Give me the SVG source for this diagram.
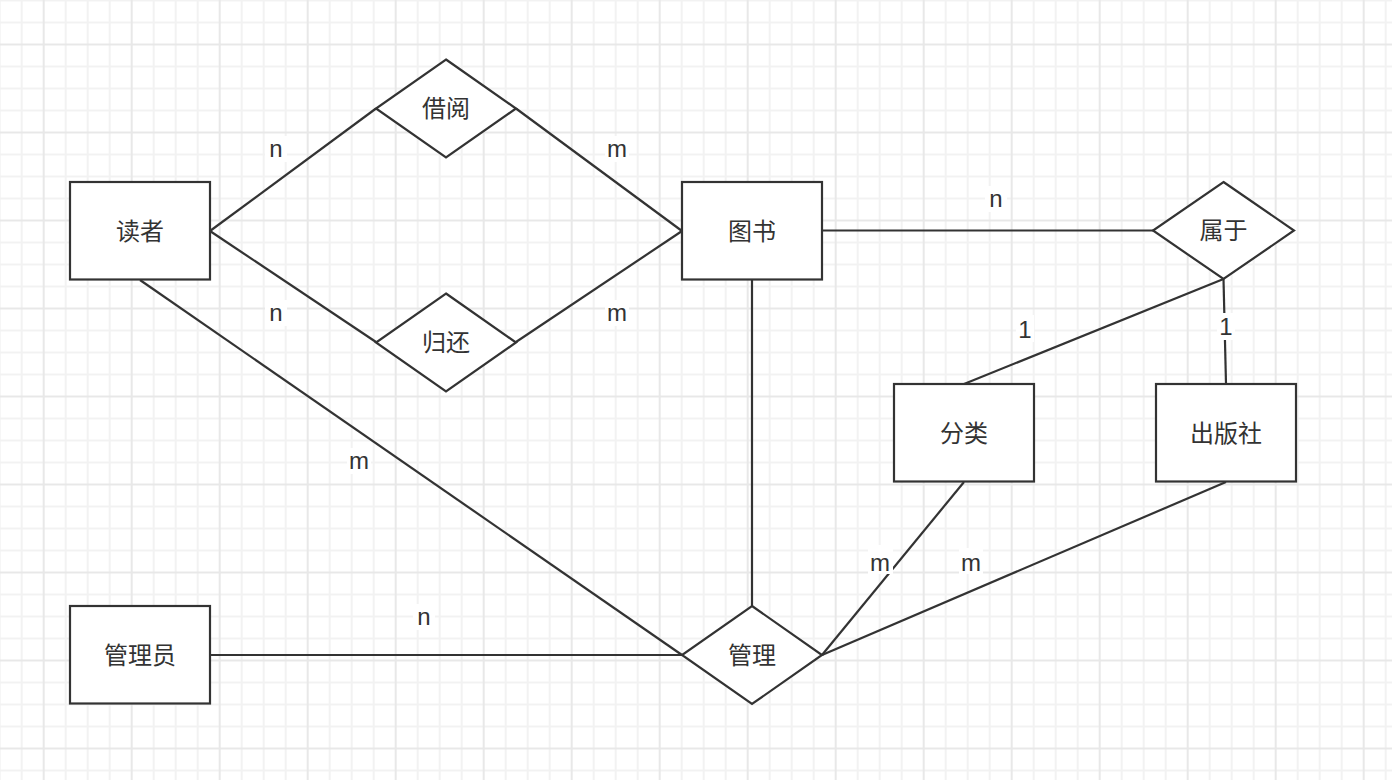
<svg xmlns="http://www.w3.org/2000/svg" width="1392" height="780" viewBox="0 0 1392 780">
<style>
.node{fill:#ffffff;stroke:#333333;stroke-width:2.2}
.edge{fill:none;stroke:#333333;stroke-width:2.2}
.t{font-family:"Liberation Sans","Noto Sans CJK SC",sans-serif;font-size:24px;fill:#333333;text-anchor:middle}
.c{dominant-baseline:central}
.bg{fill:#ffffff}
</style>
<defs>
<pattern id="grid" patternUnits="userSpaceOnUse" x="42.7" y="43.5" width="88" height="88">
<path d="M23 0V88M45 0V88M67 0V88M0 23H88M0 45H88M0 67H88" stroke="#f2f2f2" stroke-width="2" fill="none"/>
<path d="M1 0V88M0 1H88" stroke="#e8e8e8" stroke-width="2" fill="none"/>
</pattern>
</defs>
<rect width="1392" height="780" fill="#ffffff"/>
<rect width="1392" height="780" fill="url(#grid)"/>
<g id="connectors">
<path class="edge" d="M210 231L376 108.5"/>
<path class="edge" d="M516 108.5L682 231"/>
<path class="edge" d="M210 231L376 342"/>
<path class="edge" d="M516 342L682 231"/>
<path class="edge" d="M822 230.5L1153 230.5"/>
<path class="edge" d="M1223.5 279L964 384"/>
<path class="edge" d="M1223.5 279L1226 384"/>
<path class="edge" d="M140 280L682 655"/>
<path class="edge" d="M752 280L752 606"/>
<path class="edge" d="M964 482L822 655"/>
<path class="edge" d="M1226 482L822 655"/>
<path class="edge" d="M210 655L682 655"/>
</g>
<g id="edge-labels">
<rect class="bg" x="265" y="136" width="22" height="26"/><text class="t" x="276" y="157">n</text>
<rect class="bg" x="605" y="136" width="24" height="26"/><text class="t" x="617" y="157">m</text>
<rect class="bg" x="265" y="300" width="22" height="26"/><text class="t" x="276" y="321">n</text>
<rect class="bg" x="605" y="300" width="24" height="26"/><text class="t" x="617" y="321">m</text>
<rect class="bg" x="985" y="186" width="22" height="26"/><text class="t" x="996" y="207">n</text>
<rect class="bg" x="1016" y="315" width="18" height="27"/><text class="t" x="1025" y="338">1</text>
<rect class="bg" x="1217" y="313" width="18" height="27"/><text class="t" x="1226" y="335">1</text>
<rect class="bg" x="347" y="448" width="24" height="26"/><text class="t" x="359" y="469">m</text>
<rect class="bg" x="413" y="604" width="22" height="26"/><text class="t" x="424" y="625">n</text>
<rect class="bg" x="868" y="545" width="25" height="29"/><text class="t" x="880" y="571">m</text>
<rect class="bg" x="959" y="548" width="24" height="26"/><text class="t" x="971" y="571">m</text>
</g>
<g id="node-reader"><rect class="node" x="70" y="182" width="140" height="97.5"/><text class="t c" x="140" y="231">读者</text></g>
<g id="node-book"><rect class="node" x="682" y="182" width="140" height="97.5"/><text class="t c" x="752" y="231">图书</text></g>
<g id="node-category"><rect class="node" x="894" y="384" width="140" height="97.5"/><text class="t c" x="964" y="433">分类</text></g>
<g id="node-publisher"><rect class="node" x="1156" y="384" width="140" height="97.5"/><text class="t c" x="1226" y="433">出版社</text></g>
<g id="node-admin"><rect class="node" x="70" y="606" width="140" height="97.5"/><text class="t c" x="140" y="655">管理员</text></g>
<g id="node-borrow"><path class="node" d="M446 59.5L516 108.5L446 157.5L376 108.5Z"/><text class="t c" x="446" y="108.5">借阅</text></g>
<g id="node-return"><path class="node" d="M446 293.5L516 342.5L446 391.5L376 342.5Z"/><text class="t c" x="446" y="342.5">归还</text></g>
<g id="node-belong"><path class="node" d="M1223.5 182L1294 230.5L1223.5 279L1153 230.5Z"/><text class="t c" x="1223.5" y="230.5">属于</text></g>
<g id="node-manage"><path class="node" d="M752 606L822 655L752 704L682 655Z"/><text class="t c" x="752" y="655">管理</text></g>
</svg>
